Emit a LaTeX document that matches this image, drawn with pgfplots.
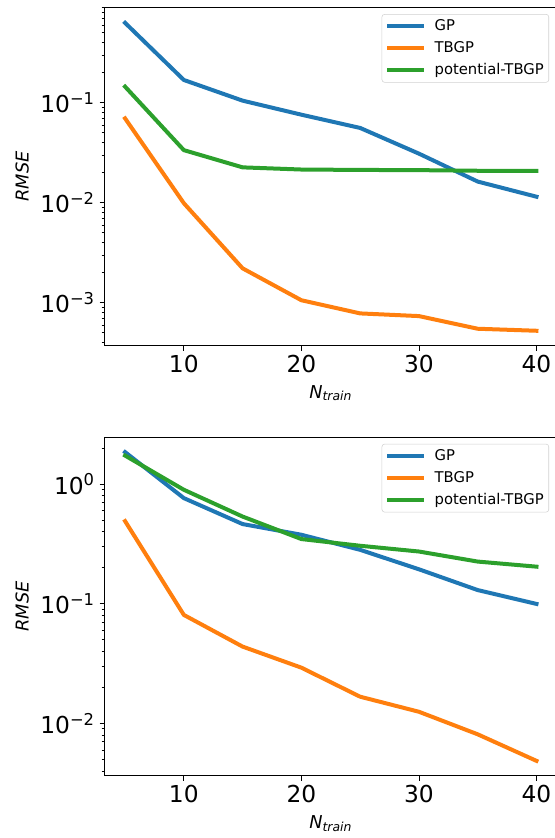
\documentclass[border=0pt]{standalone}
\usepackage{pgfplots}
\pgfplotsset{compat=1.18}
\usepackage{fontspec}
\setmainfont{DejaVu Sans}
\definecolor{tabblue}{HTML}{1F77B4}
\definecolor{taborange}{HTML}{FF7F0E}
\definecolor{tabgreen}{HTML}{2CA02C}
\pgfplotsset{
 common/.style={
  scale only axis, width=339.4pt, height=254pt,
  xmin=3.25, xmax=41.75,
  xtick={10,20,30,40}, xticklabels={10,20,30,40},
  tick align=outside, xtick pos=bottom, ytick pos=left,
  major tick length=3.75pt, minor tick length=2.25pt,
  every tick/.style={black, line width=0.6pt},
  axis line style={line width=0.75pt},
  tick label style={font=\fontsize{17.5}{20}\selectfont},
  xlabel={\textit{N}\textsubscript{\textit{train}}},
  ylabel={\textit{RMSE}},
  label style={font=\fontsize{13.3}{16}\selectfont},
  ylabel style={at={(axis description cs:-0.182,0.5)}, anchor=center},
  legend cell align=left,
  legend image code/.code={\draw[##1] (0pt,0pt) -- (24.5pt,0pt);},
  legend style={anchor=north east, draw=black!18, rounded corners=2pt, fill=white,
    font=\fontsize{11.1}{13}\selectfont, inner xsep=3.75pt, inner ysep=3.5pt,
    row sep=5.5pt, column sep=8.25pt,
    nodes={inner sep=0pt, text height=8.5pt, text depth=2.5pt}},
  every axis plot/.append style={line width=3pt, line join=round, line cap=rect},
 }
}
\begin{document}
\begin{tikzpicture}
\begin{axis}[ymode=log, common, at={(78.375pt,369.2pt)}, anchor=south west,
  ymin=3.72e-4, ymax=0.906,
  ytick={1e-3,1e-2,1e-1},
  yticklabels={10\textsuperscript{−3},10\textsuperscript{−2},10\textsuperscript{−1}},
  minor ytick={4e-4,5e-4,6e-4,7e-4,8e-4,9e-4,2e-3,3e-3,4e-3,5e-3,6e-3,7e-3,8e-3,9e-3,2e-2,3e-2,4e-2,5e-2,6e-2,7e-2,8e-2,9e-2,2e-1,3e-1,4e-1,5e-1,6e-1,7e-1,8e-1,9e-1},
  xlabel style={at={(axis description cs:0.5,-0.1544)}, anchor=base},
  legend style={at={(axis description cs:0.9823,0.9793)}},
]
\addplot[tabblue] coordinates {(5,0.63)(10,0.169)(15,0.105)(20,0.076)(25,0.056)(30,0.031)(35,0.0163)(40,0.0115)};
\addlegendentry{GP}
\addplot[taborange] coordinates {(5,0.0698)(10,0.0099)(15,0.00221)(20,0.00106)(25,0.000783)(30,0.000736)(35,0.00055)(40,0.000525)};
\addlegendentry{TBGP}
\addplot[tabgreen] coordinates {(5,0.145)(10,0.0336)(15,0.0226)(20,0.0215)(25,0.0213)(30,0.0212)(35,0.0209)(40,0.0209)};
\addlegendentry{potential-TBGP}
\end{axis}
\begin{axis}[ymode=log, common, at={(78.375pt,46.7pt)}, anchor=south west,
  ymin=3.65e-3, ymax=2.47,
  ytick={1e-2,1e-1,1},
  yticklabels={10\textsuperscript{−2},10\textsuperscript{−1},10\textsuperscript{0}},
  minor ytick={4e-3,5e-3,6e-3,7e-3,8e-3,9e-3,2e-2,3e-2,4e-2,5e-2,6e-2,7e-2,8e-2,9e-2,2e-1,3e-1,4e-1,5e-1,6e-1,7e-1,8e-1,9e-1,2},
  xlabel style={at={(axis description cs:0.5,-0.1554)}, anchor=base},
  legend style={at={(axis description cs:0.9823,0.980)}},
]
\addplot[tabblue] coordinates {(5,1.85)(10,0.763)(15,0.463)(20,0.377)(25,0.282)(30,0.194)(35,0.130)(40,0.0996)};
\addlegendentry{GP}
\addplot[taborange] coordinates {(5,0.49)(10,0.0806)(15,0.0438)(20,0.0292)(25,0.0167)(30,0.0125)(35,0.0081)(40,0.00486)};
\addlegendentry{TBGP}
\addplot[tabgreen] coordinates {(5,1.73)(10,0.896)(15,0.535)(20,0.347)(25,0.305)(30,0.273)(35,0.225)(40,0.204)};
\addlegendentry{potential-TBGP}
\end{axis}
\pgfresetboundingbox
\path[use as bounding box] (0,0) rectangle (416.25pt,628.5pt);
\end{tikzpicture}
\end{document}
